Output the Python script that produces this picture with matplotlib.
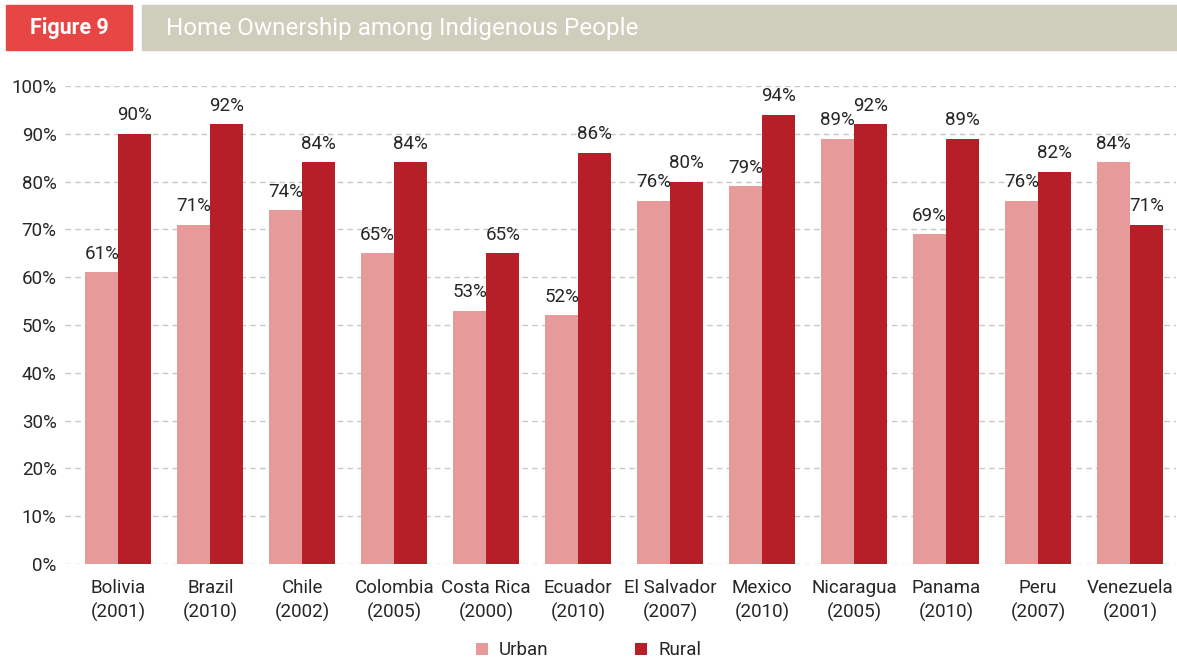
import numpy as np
import matplotlib.pyplot as plt
from matplotlib.patches import Rectangle

countries = ["Bolivia\n(2001)", "Brazil\n(2010)", "Chile\n(2002)", "Colombia\n(2005)",
             "Costa Rica\n(2000)", "Ecuador\n(2010)", "El Salvador\n(2007)", "Mexico\n(2010)",
             "Nicaragua\n(2005)", "Panama\n(2010)", "Peru\n(2007)", "Venezuela\n(2001)"]
urban = [61, 71, 74, 65, 53, 52, 76, 79, 89, 69, 76, 84]
rural = [90, 92, 84, 84, 65, 86, 80, 94, 92, 89, 82, 71]

urban_col = "#e69a9a"
rural_col = "#b71f28"
txt = "#262626"
plt.rcParams['font.family'] = ['Roboto', 'DejaVu Sans']

fig = plt.figure(figsize=(11.77, 6.63), dpi=100)

# header boxes
fig.patches.append(Rectangle((6/1177, 1 - 50/663), 126/1177, 45/663,
                             transform=fig.transFigure, color="#e84545", zorder=0))
fig.patches.append(Rectangle((142/1177, 1 - 50/663), 1035/1177, 45/663,
                             transform=fig.transFigure, color="#cfcdbb", zorder=0))
fig.text(69/1177, 1 - 28/663, "Figure 9", color="white", fontsize=15.5, fontweight="bold",
         ha="center", va="center")
fig.text(166/1177, 1 - 28/663, "Home Ownership among Indigenous People", color="white",
         fontsize=17.5, ha="left", va="center")

ax = fig.add_axes([65/1177, 1 - 564/663, 1111/1177, 478/663])
x = np.arange(len(countries))
w = 0.36
b1 = ax.bar(x - w/2, urban, w, color=urban_col, label="Urban", zorder=2)
b2 = ax.bar(x + w/2, rural, w, color=rural_col, label="Rural", zorder=2)

for bars, vals in ((b1, urban), (b2, rural)):
    for b, v in zip(bars, vals):
        ax.text(b.get_x() + b.get_width()/2, v + 2, f"{v}%", ha="center", va="bottom",
                fontsize=13.5, color=txt)

ax.set_ylim(0, 100)
ax.set_xlim(-0.58, 11.5)
ax.set_yticks(range(0, 101, 10))
ax.set_yticklabels([f"{t}%" for t in range(0, 101, 10)], fontsize=13.5, color=txt)
ax.set_xticks(x)
ax.set_xticklabels(countries, fontsize=13.5, color=txt, linespacing=1.4)
ax.tick_params(length=0)
ax.tick_params(axis="x", pad=11)
ax.tick_params(axis="y", pad=6)
ax.grid(axis="y", color="#c8c8c8", linestyle=(0, (4, 3)), linewidth=1, zorder=0)
for s in ax.spines.values():
    s.set_visible(False)

fig.legend(handles=[b1, b2], loc="lower center", bbox_to_anchor=(0.5, -0.02), ncol=2,
           frameon=False, fontsize=13.5, handlelength=0.65, handleheight=0.65,
           columnspacing=4.6, handletextpad=0.6, labelcolor=txt)

fig.savefig("out.png", dpi=100)
